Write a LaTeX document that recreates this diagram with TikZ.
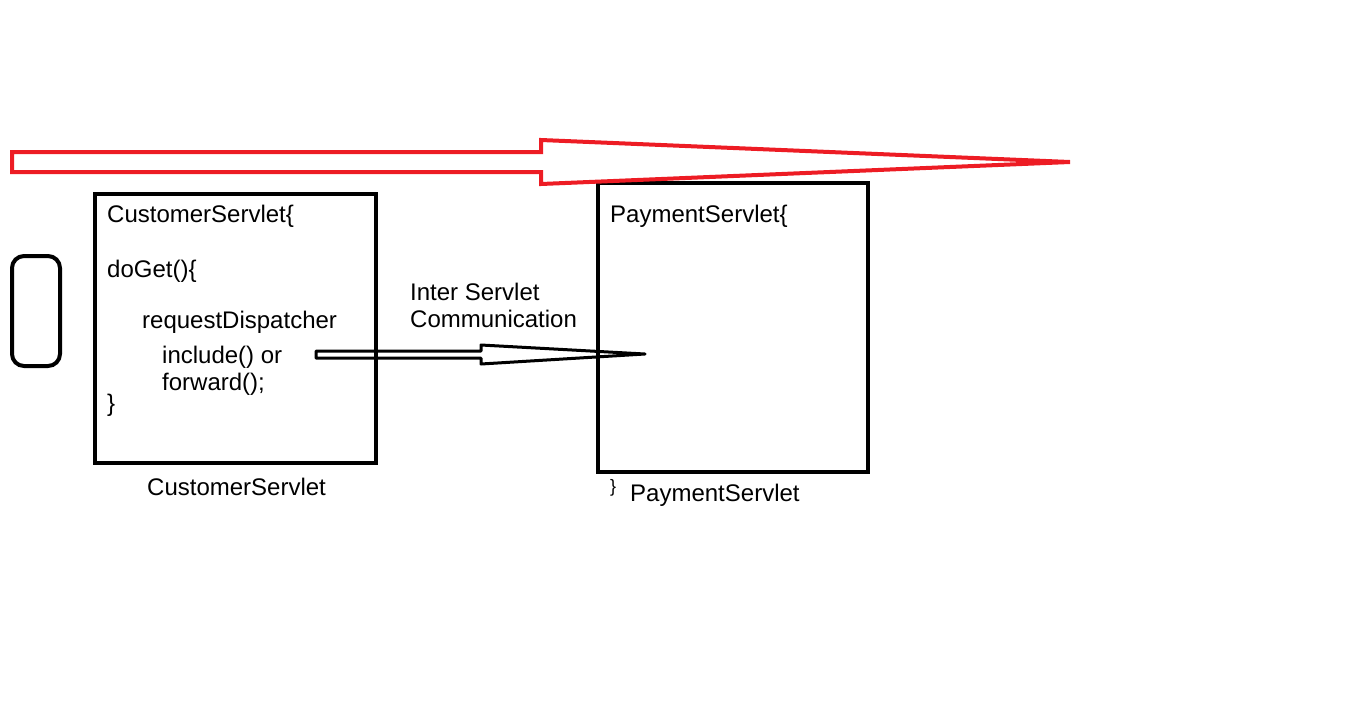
\documentclass[tikz,border=0pt]{standalone}
\usepackage{fontspec}
\setmainfont{Liberation Sans}
\definecolor{paintred}{RGB}{237,28,36}
\begin{document}
\begin{tikzpicture}[x=1pt, y=-1pt]
\tikzset{
    every node/.style={font=\fontsize{24}{28}\selectfont, inner sep=0pt, anchor=base west},
    servletbox/.style={draw, line width=4pt, outer sep=0pt, anchor=north west},
    bigarrow/.style={draw=paintred, line width=4pt, line join=miter},
    smallarrow/.style={draw, line width=3pt, line join=round}
}
\useasboundingbox (0,0) rectangle (1355,716);

\node[draw, line width=4pt, rounded corners=12pt, outer sep=0pt, anchor=north west,
      minimum width=48pt, minimum height=110pt] (handle) at (12,256) {};

\node[servletbox, minimum width=281pt, minimum height=269pt] (customer) at (95,194) {};
\node[servletbox, minimum width=270pt, minimum height=289pt] (payment) at (598,183) {};

\node (ctitle) at (107,222) {CustomerServlet\{};
\node (doget) at (107,277) {doGet()\{};
\node (dispatcher) at (142,328) {requestDispatcher};
\node (include) at (162,363) {include() or};
\node (forward) at (162,390) {forward();};
\node (cclose) at (107,411) {\}};
\node (clabel) at (147,495) {CustomerServlet};

\node (ptitle) at (610,222) {PaymentServlet\{};
\node[font=\fontsize{18}{20}\selectfont] (pclose) at (610,492) {\}};
\node (plabel) at (630,501) {PaymentServlet};

\node (inter) at (410,300) {Inter Servlet};
\node (comm) at (410,327) {Communication};

\coordinate (tail) at (316,354);
\coordinate (tip) at (645,354);
\draw[smallarrow] ([yshift=3]tail) -- (481,351) -- (481,345) -- (tip)
    -- (481,364) -- (481,358) -- ([yshift=-4]tail) -- cycle;

\coordinate (rtail) at (12,162);
\coordinate (rtip) at (1070,162);
\draw[bigarrow] ([yshift=10]rtail) -- (541,152) -- (541,140) -- (rtip)
    -- (541,184) -- (541,172) -- ([yshift=-10]rtail) -- cycle;
\end{tikzpicture}
\end{document}
